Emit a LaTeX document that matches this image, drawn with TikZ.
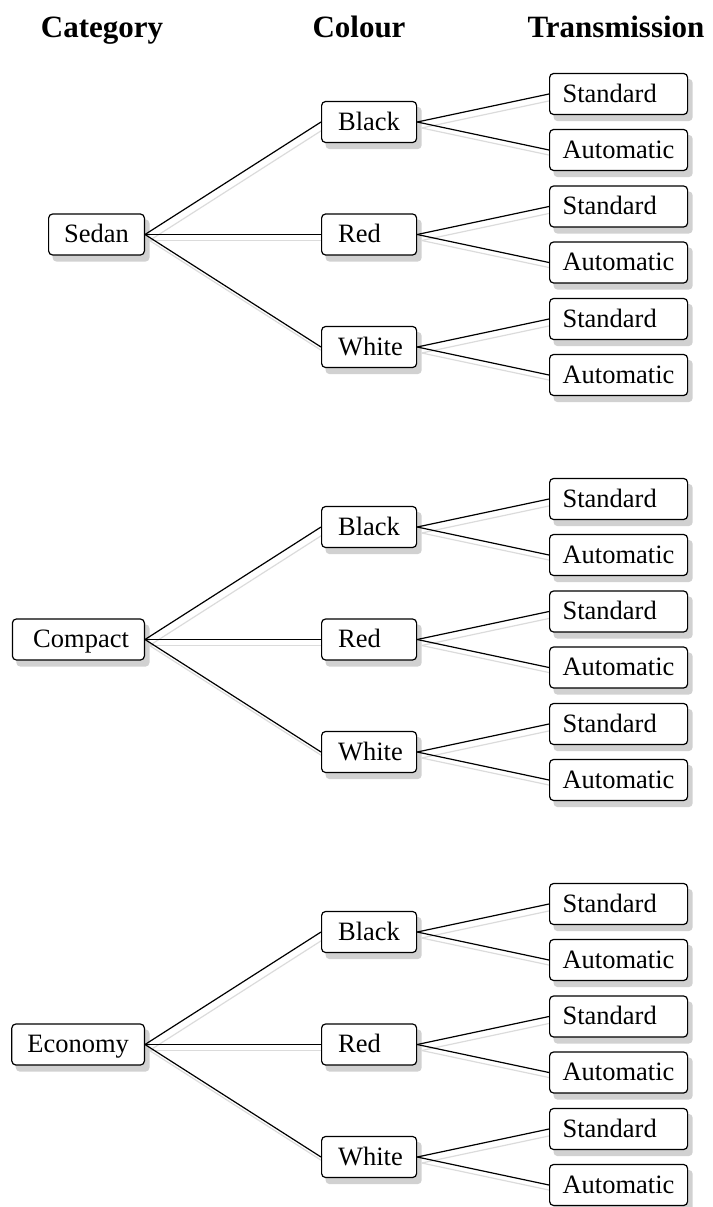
\documentclass[tikz,border=0pt]{standalone}
\usepackage{fontspec}
\setmainfont{Liberation Serif}
\definecolor{shadegray}{gray}{0.82}
\definecolor{linkgray}{gray}{0.86}
\pgfdeclarelayer{shade}
\pgfdeclarelayer{links}
\pgfsetlayers{shade,links,main}
\begin{document}
\begin{tikzpicture}[x=1pt,y=-1pt,
  box/.style={draw=black, line width=1.2pt, fill=white, rounded corners=4pt,
    font=\fontsize{26.5}{30}\selectfont, text height=19.5pt, text depth=3.5pt,
    inner ysep=9pt, align=left},
  catbox/.style={box, anchor=east, inner xsep=15.5pt},
  colbox/.style={box, anchor=west, inner xsep=16.5pt, text width=62pt},
  trbox/.style={box, anchor=west, inner xsep=13pt, text width=112pt},
  head/.style={anchor=base, font=\fontsize{31}{36}\selectfont\bfseries},
  link/.style={line width=1.2pt, black},
  linkshade/.style={line width=1.2pt, linkgray},
  boxshade/.style={fill=shadegray, rounded corners=4pt},
]
\useasboundingbox (0,0) rectangle (712,1207);

% column headings
\node[head] (hcat) at (102,38) {Category};
\node[head] (hcol) at (359,38) {Colour};
\node[head] (htr)  at (616,38) {Transmission};

% category level
\node[catbox] (cat1) at (145,234.5) {Sedan};
\node[catbox, text width=101pt, align=right] (cat2) at (145,639.5) {Compact};
\node[catbox] (cat3) at (145,1044.5) {Economy};

% colour and transmission levels
\foreach \g/\cy in {1/234.5, 2/639.5, 3/1044.5} {
  \foreach \c/\cname [count=\k] in {-112.5/Black, 0/Red, 112.5/White} {
    \node[colbox] (col\g\k) at (321,\cy+\c) {\cname};
    \node[trbox] (tr\g\k1) at (549,\cy+\c-28) {Standard};
    \node[trbox] (tr\g\k2) at (549,\cy+\c+28) {Automatic};
  }
}

% drop shadows of boxes and links
\begin{pgfonlayer}{shade}
  \foreach \g in {1,2,3} {
    \fill[boxshade] ([shift={(4.5,6)}]cat\g.north west) rectangle ([shift={(4.5,6)}]cat\g.south east);
    \foreach \k in {1,2,3} {
      \fill[boxshade] ([shift={(4.5,6)}]col\g\k.north west) rectangle ([shift={(4.5,6)}]col\g\k.south east);
      \draw[linkshade] ([shift={(4.5,6)}]cat\g.east) -- ([shift={(4.5,6)}]col\g\k.west);
      \foreach \m in {1,2} {
        \fill[boxshade] ([shift={(4.5,6)}]tr\g\k\m.north west) rectangle ([shift={(4.5,6)}]tr\g\k\m.south east);
        \draw[linkshade] ([shift={(4.5,6)}]col\g\k.east) -- ([shift={(4.5,6)}]tr\g\k\m.west);
      }
    }
  }
\end{pgfonlayer}

% tree links
\begin{pgfonlayer}{links}
  \foreach \g in {1,2,3} {
    \foreach \k in {1,2,3} {
      \draw[link] (cat\g.east) -- (col\g\k.west);
      \foreach \m in {1,2} {
        \draw[link] (col\g\k.east) -- (tr\g\k\m.west);
      }
    }
  }
\end{pgfonlayer}
\end{tikzpicture}
\end{document}
